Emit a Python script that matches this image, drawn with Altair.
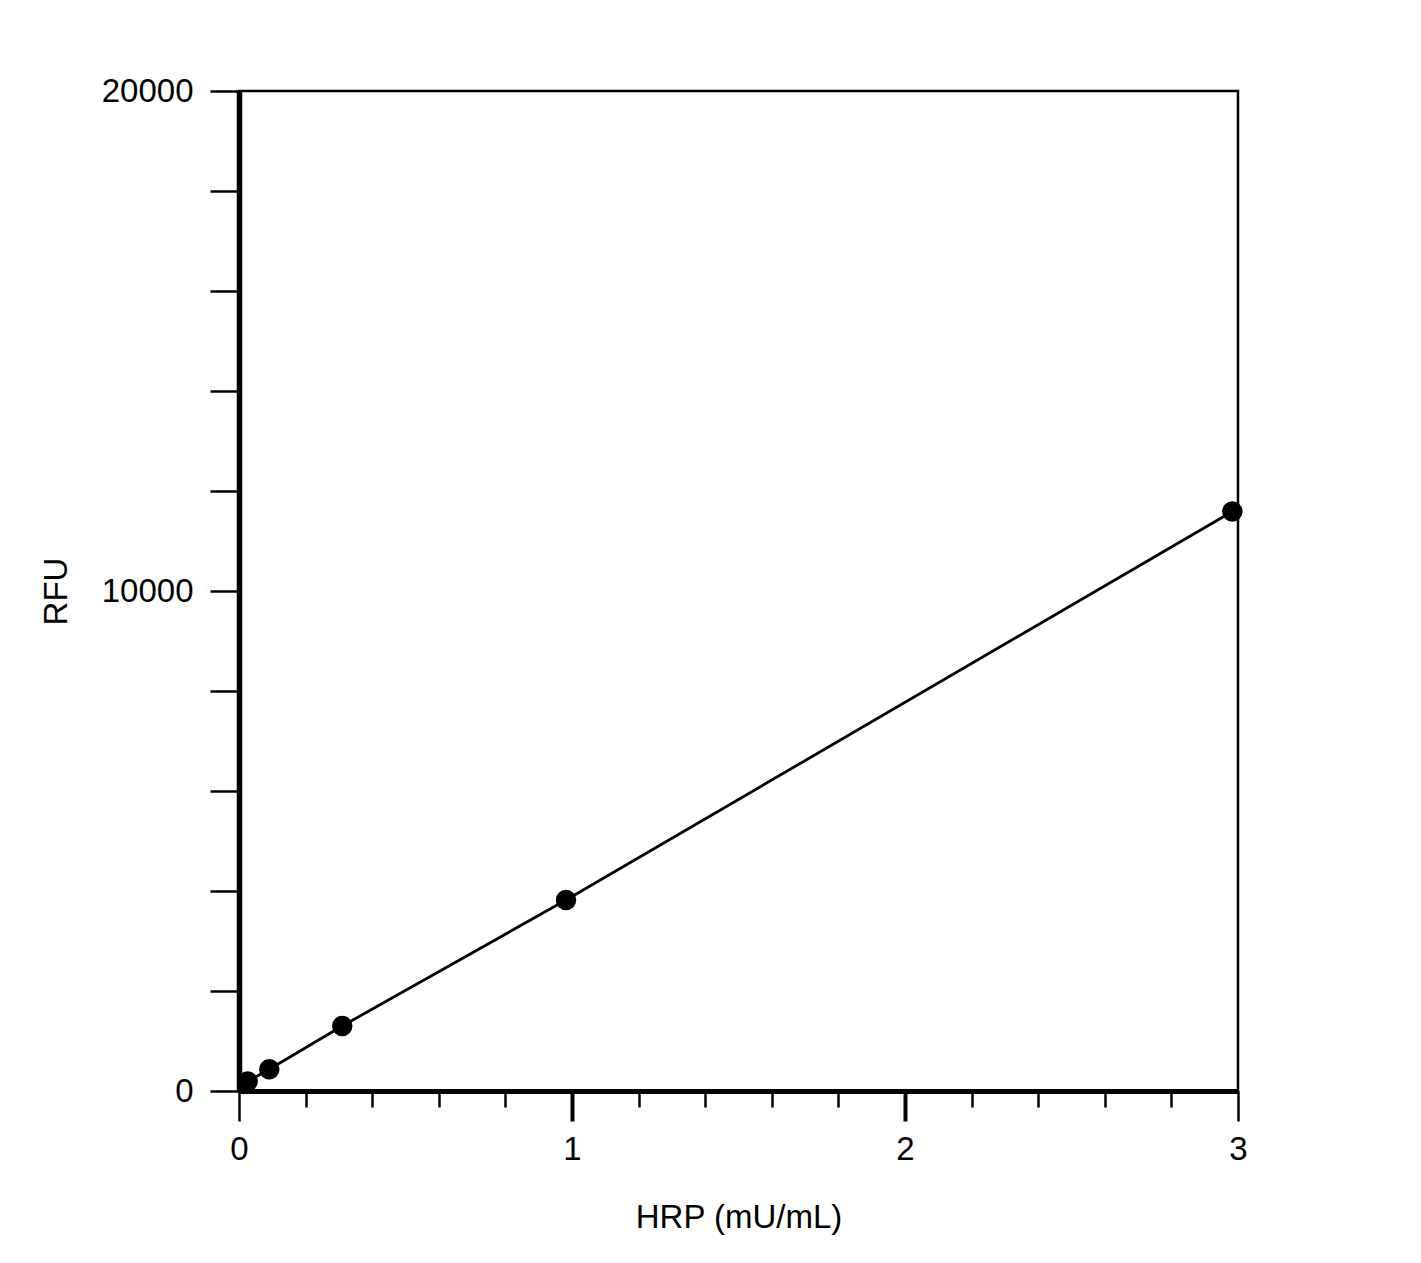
import altair as alt
import pandas as pd

# Data
hrp = [0.026, 0.091, 0.310, 0.982, 2.983]
rfu = [190, 435, 1300, 3820, 11590]

x_tick_values = [0, 0.2, 0.4, 0.6, 0.8, 1, 1.2, 1.4, 1.6, 1.8, 2, 2.2, 2.4, 2.6, 2.8, 3]
y_tick_values = [0, 2000, 4000, 6000, 8000, 10000, 12000, 14000, 16000, 18000, 20000]

df = pd.DataFrame({"hrp": hrp, "rfu": rfu})

FONT = "Liberation Sans"
major_test = "abs(datum.value - round(datum.value)) < 0.001"

x_enc = alt.X(
    "hrp:Q",
    scale=alt.Scale(domain=[0, 3], nice=False, zero=False),
    axis=alt.Axis(
        values=x_tick_values,
        title="HRP (mU/mL)",
        grid=False,
        domainColor="black",
        domainWidth=5,
        tickColor="black",
        tickSize={"condition": {"test": major_test, "value": 30}, "value": 16},
        tickWidth={"condition": {"test": "datum.value > 0.5 && datum.value < 2.5 && " + major_test, "value": 4}, "value": 2.5},
        labelExpr=major_test + " ? format(datum.value, '.0f') : ''",
        labelFlush=False,
        labelBound=False,
        labelPadding=12,
        titlePadding=35,
    ),
)

y_enc = alt.Y(
    "rfu:Q",
    scale=alt.Scale(domain=[0, 20000], nice=False, zero=False),
    axis=alt.Axis(
        values=y_tick_values,
        title="RFU",
        grid=False,
        domainColor="black",
        domainWidth=5.5,
        tickColor="black",
        tickSize=29,
        tickWidth=2.5,
        labelExpr="datum.value % 10000 == 0 ? format(datum.value, 'd') : ''",
        labelFlush=False,
        labelBound=False,
        labelPadding=17,
        titlePadding=28,
    ),
)

line = alt.Chart(df).mark_line(color="black", strokeWidth=2.8).encode(x=x_enc, y=y_enc)
points = alt.Chart(df).mark_point(
    filled=True, color="black", size=420, opacity=1, shape="circle"
).encode(x=x_enc, y=y_enc)

chart = (
    alt.layer(line, points)
    .properties(
        width=999,
        height=1000,
        autosize=alt.AutoSizeParams(type="none"),
        padding={"left": 231, "top": 83, "right": 160, "bottom": 160},
    )
    .configure(background="white")
    .configure_view(stroke="black", strokeWidth=2.5)
    .configure_axis(
        labelFont=FONT,
        titleFont=FONT,
        labelFontSize=33,
        titleFontSize=33,
        titleFontWeight="normal",
        labelColor="black",
        titleColor="black",
    )
)

chart.save("out.html", embed_options={"renderer": "svg", "actions": False})
